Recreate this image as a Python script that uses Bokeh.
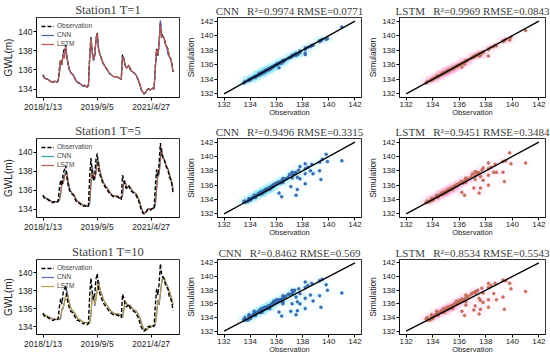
import pandas as pd
from bokeh.plotting import figure
from bokeh.layouts import column, row
from bokeh.models import Range1d, FixedTicker, Legend, LegendItem
from bokeh.embed import file_html
from bokeh.resources import INLINE

# ---------------- data ----------------
start_date = "2018-01-13"
step = "14D"
date_tick_labels = ["2018/1/13", "2019/9/5", "2021/4/27"]
gwl_ticks = [134, 136, 138, 140]
scatter_ticks = [132, 134, 136, 138, 140, 142]
horizons = ["T=1", "T=5", "T=10"]

obs = [
    135.5, 135.2, 135.1, 135.1, 135.0, 134.9, 134.8, 134.7, 134.7, 134.8,
    134.8, 134.7, 134.9, 136.2, 137.1, 136.5, 137.8, 138.2, 138.6, 137.2,
    136.5, 136.0, 135.7, 135.6, 135.5, 135.2, 134.9, 134.7, 134.7, 134.6,
    134.5, 134.4, 134.3, 134.4, 134.3, 134.2, 134.4, 137.5, 139.4, 137.8,
    137.0, 137.6, 139.3, 139.9, 138.2, 137.7, 137.3, 136.9, 136.6, 136.4,
    136.2, 136.0, 135.8, 135.6, 135.5, 135.4, 135.3, 135.3, 135.3, 135.3,
    135.2, 135.1, 135.0, 137.6, 137.2, 136.5, 136.2, 136.3, 136.5, 136.1,
    135.9, 135.8, 135.7, 135.6, 135.4, 135.1, 134.8, 134.3, 133.9, 133.6,
    133.5, 133.6, 133.8, 134.0, 134.0, 133.9, 134.0, 134.1, 134.0, 136.4,
    138.2, 137.5, 138.8, 141.0, 139.8, 139.5, 139.3, 138.7, 138.4, 138.2,
    137.4, 137.2, 136.7, 135.8]

cnn_t1 = [
    135.4, 135.2, 135.1, 135.0, 135.0, 134.9, 134.8, 134.8, 134.7, 134.8,
    134.8, 134.7, 134.8, 135.6, 137.0, 136.6, 137.7, 137.4, 138.5, 137.3,
    136.5, 136.1, 135.7, 135.6, 135.4, 135.2, 134.9, 134.7, 134.6, 134.6,
    134.5, 134.4, 134.3, 134.3, 134.3, 134.2, 134.3, 137.3, 139.3, 137.9,
    137.0, 137.5, 139.2, 139.6, 138.3, 137.6, 137.3, 136.9, 136.6, 136.4,
    136.2, 136.0, 135.8, 135.6, 135.5, 135.4, 135.3, 135.3, 135.3, 135.2,
    135.2, 135.1, 135.0, 137.4, 137.2, 136.5, 136.2, 136.3, 136.4, 136.1,
    135.9, 135.8, 135.7, 135.6, 135.4, 135.1, 134.8, 134.3, 133.9, 133.7,
    133.5, 133.6, 133.8, 134.0, 134.0, 133.9, 134.0, 134.1, 134.0, 136.2,
    138.1, 137.6, 138.7, 141.2, 139.5, 139.5, 139.3, 138.7, 138.4, 137.6,
    137.4, 137.2, 136.7, 135.8]

lstm_t1 = [
    135.4, 135.2, 135.1, 135.1, 135.0, 134.9, 134.8, 134.7, 134.7, 134.8,
    134.8, 134.7, 134.9, 135.7, 137.0, 136.5, 137.7, 137.2, 138.5, 137.3,
    136.6, 136.0, 135.7, 135.6, 135.5, 135.2, 134.9, 134.8, 134.7, 134.6,
    134.5, 134.4, 134.4, 134.4, 134.3, 134.2, 134.4, 137.2, 139.3, 137.8,
    137.1, 137.5, 139.2, 139.8, 138.2, 137.7, 137.3, 136.9, 136.6, 136.4,
    136.2, 136.0, 135.8, 135.6, 135.5, 135.4, 135.3, 135.3, 135.3, 135.3,
    135.2, 135.1, 135.0, 137.3, 137.2, 136.5, 136.2, 136.3, 136.5, 136.1,
    135.9, 135.8, 135.7, 135.6, 135.4, 135.1, 134.8, 134.4, 133.9, 133.7,
    133.5, 133.6, 133.8, 134.0, 134.0, 133.9, 134.0, 134.1, 134.0, 136.1,
    138.1, 137.6, 138.6, 140.7, 139.4, 139.5, 139.3, 138.7, 138.4, 138.1,
    137.4, 137.2, 136.7, 135.8]

cnn_t5 = [
    135.4, 135.3, 135.2, 135.1, 135.1, 135.0, 134.9, 134.8, 134.8, 134.8,
    134.8, 134.8, 134.8, 134.9, 135.8, 136.7, 136.9, 137.6, 138.0, 137.8,
    136.9, 136.3, 135.9, 135.7, 135.6, 135.4, 135.1, 134.9, 134.8, 134.7,
    134.6, 134.5, 134.4, 134.4, 134.4, 134.3, 134.3, 134.6, 136.8, 138.6,
    137.5, 137.1, 138.0, 139.3, 139.0, 138.1, 137.6, 137.1, 136.8, 136.6,
    136.4, 136.2, 136.0, 135.8, 135.6, 135.5, 135.4, 135.4, 135.4, 135.4,
    135.3, 135.2, 135.1, 135.4, 137.0, 136.9, 136.4, 136.3, 136.4, 136.3,
    136.1, 135.9, 135.8, 135.7, 135.6, 135.3, 135.0, 134.6, 134.1, 133.8,
    133.7, 133.6, 133.7, 133.9, 134.1, 134.0, 134.0, 134.1, 134.1, 134.4,
    136.2, 137.8, 137.6, 139.4, 140.3, 139.6, 139.2, 138.9, 138.5, 138.3,
    137.7, 137.3, 136.9, 136.1]

lstm_t5 = [
    135.4, 135.3, 135.2, 135.1, 135.0, 135.0, 134.9, 134.8, 134.7, 134.8,
    134.8, 134.8, 134.8, 135.0, 135.6, 136.8, 136.7, 137.4, 137.8, 137.9,
    136.8, 136.2, 135.9, 135.7, 135.6, 135.4, 135.1, 134.9, 134.8, 134.7,
    134.6, 134.5, 134.4, 134.4, 134.4, 134.3, 134.3, 134.9, 136.5, 138.4,
    137.6, 137.2, 137.8, 139.0, 139.1, 138.1, 137.6, 137.2, 136.8, 136.6,
    136.4, 136.2, 136.0, 135.8, 135.6, 135.5, 135.4, 135.4, 135.4, 135.4,
    135.3, 135.2, 135.1, 135.6, 136.8, 137.0, 136.5, 136.3, 136.4, 136.4,
    136.1, 135.9, 135.8, 135.7, 135.6, 135.3, 135.0, 134.6, 134.1, 133.8,
    133.6, 133.6, 133.7, 133.9, 134.1, 134.0, 134.0, 134.1, 134.1, 134.6,
    136.0, 137.7, 137.8, 139.1, 140.5, 139.4, 139.3, 138.9, 138.5, 138.3,
    137.8, 137.3, 136.9, 136.1]

cnn_t10 = [
    135.3, 135.4, 135.2, 135.2, 135.1, 135.1, 135.0, 134.9, 134.8, 134.8,
    134.8, 134.8, 134.8, 134.8, 134.9, 136.0, 136.0, 136.8, 137.3, 138.0,
    137.2, 136.6, 136.1, 135.8, 135.7, 135.5, 135.3, 135.0, 134.8, 134.8,
    134.7, 134.6, 134.5, 134.4, 134.5, 134.4, 134.3, 134.4, 135.5, 137.5,
    137.4, 136.3, 137.2, 138.0, 139.2, 138.2, 137.8, 137.4, 137.0, 136.7,
    136.5, 136.3, 136.1, 135.9, 135.7, 135.6, 135.5, 135.4, 135.4, 135.4,
    135.4, 135.3, 135.2, 135.0, 136.0, 136.8, 136.6, 136.4, 136.3, 136.4,
    136.2, 136.0, 135.9, 135.8, 135.7, 135.5, 135.2, 134.9, 134.4, 134.0,
    133.7, 133.6, 133.6, 133.8, 134.1, 134.1, 134.0, 134.1, 134.1, 134.2,
    135.3, 137.0, 136.4, 137.6, 138.8, 139.6, 139.4, 139.0, 138.7, 138.4,
    138.0, 137.5, 137.1, 136.4]

lstm_t10 = [
    135.3, 135.3, 135.2, 135.2, 135.1, 135.0, 135.0, 134.9, 134.8, 134.8,
    134.8, 134.8, 134.8, 134.9, 135.1, 135.8, 136.2, 136.6, 137.5, 137.8,
    137.3, 136.5, 136.1, 135.8, 135.7, 135.5, 135.3, 135.0, 134.8, 134.8,
    134.7, 134.6, 134.5, 134.4, 134.5, 134.4, 134.3, 134.5, 135.2, 137.6,
    137.6, 136.5, 137.0, 138.2, 139.0, 138.3, 137.8, 137.4, 137.0, 136.7,
    136.5, 136.3, 136.1, 135.9, 135.7, 135.6, 135.5, 135.4, 135.4, 135.4,
    135.4, 135.3, 135.2, 135.2, 135.7, 136.9, 136.7, 136.4, 136.3, 136.4,
    136.2, 136.0, 135.9, 135.8, 135.7, 135.5, 135.2, 134.9, 134.4, 134.0,
    133.8, 133.6, 133.6, 133.8, 134.0, 134.1, 134.0, 134.1, 134.1, 134.3,
    135.5, 136.8, 136.6, 137.8, 139.0, 139.4, 139.5, 139.0, 138.7, 138.4,
    138.0, 137.6, 137.1, 136.4]

cnn_preds = [cnn_t1, cnn_t5, cnn_t10]
lstm_preds = [lstm_t1, lstm_t5, lstm_t10]
cnn_r2 = ["0.9974", "0.9496", "0.8462"]
cnn_rmse = ["0.0771", "0.3315", "0.569"]
lstm_r2 = ["0.9969", "0.9451", "0.8534"]
lstm_rmse = ["0.0843", "0.3484", "0.5543"]

# ---------------- style ----------------
SANS = "Liberation Sans"
SERIF = "Liberation Serif"
ts_cnn_colors = ["#4f5fa6", "#2f9fa3", "#5a68b2"]
ts_lstm_colors = ["#b2584d", "#ad5f50", "#b79f4c"]
cnn_pt, cnn_edge, cnn_shade = "#3a72bb", "#24508f", "#3fe0f5"
lstm_pt, lstm_edge, lstm_shade = "#d4665c", "#9a7a55", "#ff7cc0"
NB = "\u00a0"

col_w = [183, 182, 185]
col_left = [31, 31, 30]
col_right = [4, 4, 5]
row_h = [120, 121, 121]
ts_borders = [(15, 23), (18, 24), (17, 28)]
sc_borders = [(16, 20), (18, 22), (18, 21)]

dates = pd.date_range(start_date, periods=len(obs), freq=step)
xdays = list((dates - dates[0]).days)
tick_days = list((pd.to_datetime(date_tick_labels) - dates[0]).days)
span = xdays[-1] - xdays[0]


def style_axes(p, tick_size):
    for ax in (p.xaxis[0], p.yaxis[0]):
        ax.major_tick_out = 3
        ax.major_tick_in = 0
        ax.minor_tick_out = 0
        ax.minor_tick_in = 0
        ax.major_label_standoff = 1
        ax.axis_label_standoff = 1
        ax.axis_line_color = "black"
        ax.axis_line_width = 0.8
        ax.major_tick_line_color = "black"
        ax.major_label_text_font = SANS
        ax.major_label_text_font_size = tick_size
        ax.major_label_text_line_height = 1.0
        ax.major_label_text_color = "#222222"
        ax.axis_label_text_font = SANS
        ax.axis_label_text_font_style = "normal"
        ax.axis_label_text_color = "#222222"
        ax.axis_label_text_line_height = 1.0
    p.grid.visible = False
    p.outline_line_color = "black"
    p.outline_line_width = 0.8
    p.outline_line_alpha = 1.0
    p.title.align = "center"
    p.title.text_font = SERIF
    p.title.text_font_style = "normal"
    p.title.text_color = "#404040"
    p.title.text_line_height = 1.0
    p.title.standoff = 1


def ts_panel(i):
    top, bottom = ts_borders[i]
    p = figure(width=col_w[0], height=row_h[i], output_backend="svg",
               toolbar_location=None,
               x_range=Range1d(xdays[0] - 0.05 * span, xdays[-1] + 0.05 * span),
               y_range=Range1d(133.12, 141.48),
               min_border_left=col_left[0], min_border_right=col_right[0],
               min_border_top=top, min_border_bottom=bottom,
               title="Station1 " + horizons[i])
    style_axes(p, "8.5px")
    p.title.text_font_size = "12.5px"
    p.xaxis.ticker = FixedTicker(ticks=tick_days)
    p.xaxis.major_label_overrides = {d: lab for d, lab in zip(tick_days, date_tick_labels)}
    p.yaxis.ticker = FixedTicker(ticks=gwl_ticks)
    p.yaxis.axis_label = "GWL(m)"
    p.yaxis.axis_label_text_font_size = "10px"
    if i == 0:
        r_obs = p.line(xdays, obs, color="black", line_width=1.4, line_dash="4 2")
        r_cnn = p.line(xdays, cnn_preds[i], color=ts_cnn_colors[i], line_width=1.2)
        r_lstm = p.line(xdays, lstm_preds[i], color=ts_lstm_colors[i], line_width=1.2)
    else:
        r_cnn = p.line(xdays, cnn_preds[i], color=ts_cnn_colors[i], line_width=1.2)
        r_lstm = p.line(xdays, lstm_preds[i], color=ts_lstm_colors[i], line_width=1.2)
        r_obs = p.line(xdays, obs, color="black", line_width=1.4, line_dash="4 2")
    legend = Legend(items=[LegendItem(label="Observation", renderers=[r_obs]),
                           LegendItem(label="CNN", renderers=[r_cnn]),
                           LegendItem(label="LSTM", renderers=[r_lstm])],
                    location="top_left")
    legend.border_line_alpha = 0
    legend.background_fill_alpha = 0
    legend.label_text_font = SANS
    legend.label_text_font_size = "6.5px"
    legend.label_text_line_height = 1.0
    legend.label_height = 6
    legend.glyph_height = 6
    legend.glyph_width = 13
    legend.spacing = 2
    legend.padding = 1
    legend.margin = 4
    legend.label_standoff = 3
    p.add_layout(legend)
    return p


def sc_panel(i, model):
    top, bottom = sc_borders[i]
    c = 1 if model == "CNN" else 2
    if model == "CNN":
        pred, r2, rmse = cnn_preds[i], cnn_r2[i], cnn_rmse[i]
        pt, edge, shade = cnn_pt, cnn_edge, cnn_shade
    else:
        pred, r2, rmse = lstm_preds[i], lstm_r2[i], lstm_rmse[i]
        pt, edge, shade = lstm_pt, lstm_edge, lstm_shade
    lo, hi = scatter_ticks[0], scatter_ticks[-1]
    pad = 0.05 * (hi - lo)
    title = model + NB * 3 + "R\u00b2=" + r2 + NB + "RMSE=" + rmse
    p = figure(width=col_w[c], height=row_h[i], output_backend="svg",
               toolbar_location=None,
               x_range=Range1d(lo - pad, hi + pad), y_range=Range1d(lo - pad, hi + pad),
               min_border_left=col_left[c], min_border_right=col_right[c],
               min_border_top=top, min_border_bottom=bottom,
               title=title)
    style_axes(p, "8px")
    p.title.text_font_size = "11px"
    p.xaxis.ticker = FixedTicker(ticks=scatter_ticks)
    p.yaxis.ticker = FixedTicker(ticks=scatter_ticks)
    p.xaxis.major_label_standoff = 1
    p.xaxis.axis_label = "Observation"
    p.xaxis.axis_label_text_font_size = "7.5px"
    p.xaxis.axis_label_standoff = -2
    p.yaxis.axis_label = "Simulation"
    p.yaxis.axis_label_text_font_size = "8.5px"
    p.rect(obs, pred, width=1.0, height=0.9, fill_color=shade, fill_alpha=0.05,
           line_color=None)
    p.scatter(obs, pred, size=3, fill_color=pt, line_color=edge, line_width=0.4)
    p.line([lo, hi], [lo, hi], color="black", line_width=1.3)
    return p


rows = []
for i in range(3):
    rows.append(row(ts_panel(i), sc_panel(i, "CNN"), sc_panel(i, "LSTM")))
layout = column(*rows)

open("out.html", "w").write(file_html(layout, INLINE))
